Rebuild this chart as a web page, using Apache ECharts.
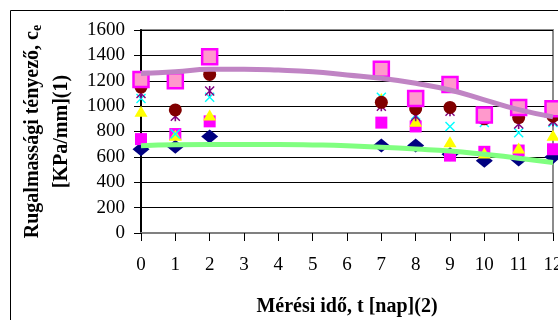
<!DOCTYPE html>
<html>
<head>
<meta charset="utf-8">
<script src="https://cdn.jsdelivr.net/npm/echarts@6/dist/echarts.min.js"></script>
<style>
  html, body { margin: 0; padding: 0; background: #fff; }
  #chart { width: 558px; height: 320px; }
</style>
</head>
<body>
<div id="chart"></div>
<script>
// Measurement days (x) and the measured elasticity values per series
const days = [0, 1, 2, 7, 8, 9, 10, 11, 12];
const seriesDiamond = [660, 680, 760, 690, 690, 620, 570, 580, 600];
const seriesSquare = [740, 780, 880, 870, 840, 610, 640, 650, 660];
const seriesTriangle = [960, 770, 930, 1060, 880, 720, 630, 670, 770];
const seriesCross = [1060, 780, 1070, 1070, 930, 840, 870, 790, 870];
const seriesStar = [1100, 920, 1120, 1000, 920, 960, 900, 860, 880];
const seriesCircle = [1150, 970, 1250, 1030, 980, 990, 900, 910, 920];
const seriesPink = [1210, 1200, 1390, 1290, 1060, 1170, 930, 990, 980];

// Trend curves sampled on every day 0..12
const trendDays = [0, 1, 2, 3, 4, 5, 6, 7, 8, 9, 10, 11, 12];
const trendUpper = [1258, 1271, 1290, 1290, 1284, 1271, 1245, 1219, 1180, 1127, 1050, 972, 915];
const trendLower = [688, 695, 697, 697, 697, 694, 688, 676, 662, 646, 620, 590, 555];

const yTicks = [0, 200, 400, 600, 800, 1000, 1200, 1400, 1600];

const pairs = (xs, ys) => xs.map((x, i) => [x, ys[i]]);

const crossPath = 'path://M0,1L1,0L5,4L9,0L10,1L6,5L10,9L9,10L5,6L1,10L0,9L4,5Z';
const starPath = 'path://M0,1L1,0L5,4L9,0L10,1L6,5L10,9L9,10L5,6L1,10L0,9L4,5ZM4.2,0L5.8,0L5.8,10L4.2,10Z';

const serif = '"Liberation Serif", "Times New Roman", serif';

function scatter(name, values, symbol, size, color, extra) {
  return Object.assign({
    name: name,
    type: 'scatter',
    data: pairs(days, values),
    symbol: symbol,
    symbolSize: size,
    itemStyle: { color: color, opacity: 1 },
    clip: false,
    silent: true
  }, extra || {});
}

const chart = echarts.init(document.getElementById('chart'), null, { renderer: 'canvas' });

chart.setOption({
  animation: false,
  backgroundColor: '#ffffff',
  grid: {
    left: 141, right: 5, top: 30, bottom: 87,
    outerBoundsMode: 'none',
    containLabel: false,
    show: true, borderColor: '#8c8c8c', borderWidth: 2, backgroundColor: '#ffffff'
  },
  graphic: [{
    type: 'rect',
    shape: { x: 10.5, y: 10.5, width: 600, height: 400 },
    style: { fill: 'none', stroke: '#000', lineWidth: 1 },
    z: -1, silent: true
  }],
  xAxis: {
    type: 'value',
    min: 0, max: 12, interval: 1,
    axisLine: { show: true, onZero: false, lineStyle: { color: '#808080', width: 2 } },
    axisTick: { show: true, length: 8, lineStyle: { color: '#000', width: 1 } },
    axisLabel: { color: '#000', fontFamily: serif, fontSize: 19, margin: 23, hideOverlap: false },
    splitLine: { show: false },
    name: 'Mérési idő, t [nap](2)',
    nameLocation: 'middle',
    nameGap: 64,
    nameTextStyle: { color: '#000', fontFamily: serif, fontSize: 20, fontWeight: 'bold' }
  },
  yAxis: {
    type: 'value',
    min: yTicks[0], max: yTicks[yTicks.length - 1], interval: 200,
    axisLine: { show: true, lineStyle: { color: '#000', width: 2 } },
    axisTick: { show: true, inside: false, length: 7, lineStyle: { color: '#000', width: 1 } },
    axisLabel: {
      color: '#000', fontFamily: serif, fontSize: 19, margin: 16,
      formatter: v => String(v)
    },
    splitLine: { show: true, lineStyle: { color: '#000', width: 1 } },
    name: '{a|Rugalmassági tényező, c}{s|e}\n{a|[KPa/mm](1)}',
    nameLocation: 'middle',
    nameRotate: 90,
    nameGap: 64,
    nameTextStyle: {
      color: '#000', fontFamily: serif, fontSize: 20, fontWeight: 'bold',
      lineHeight: 29, align: 'center',
      rich: {
        a: { color: '#000', fontFamily: serif, fontSize: 20, fontWeight: 'bold', lineHeight: 29 },
        s: { color: '#000', fontFamily: serif, fontSize: 14, fontWeight: 'bold', lineHeight: 29, padding: [9, 0, 0, 0] }
      }
    }
  },
  series: [
    scatter('1', seriesDiamond, 'diamond', [17, 14], '#000080'),
    scatter('2', seriesSquare, 'rect', 12, '#ff00ff'),
    scatter('3', seriesTriangle, 'triangle', [13, 11], '#ffff00'),
    scatter('4', seriesCross, crossPath, 10, '#00ffff'),
    scatter('5', seriesStar, starPath, 10, '#800080'),
    scatter('6', seriesCircle, 'circle', 13, '#800000'),
    scatter('7', seriesPink, 'rect', 15, '#ff99cc', {
      itemStyle: { color: '#ff99cc', borderColor: '#ff00ff', borderWidth: 2.5, opacity: 1 }
    }),
    {
      name: 'trend-lower',
      type: 'line',
      data: pairs(trendDays, trendLower),
      smooth: true,
      symbol: 'none',
      lineStyle: { color: '#80ff80', width: 5 },
      silent: true,
      z: 3
    },
    {
      name: 'trend-upper',
      type: 'line',
      data: pairs(trendDays, trendUpper),
      smooth: true,
      symbol: 'none',
      lineStyle: { color: '#c084c4', width: 5 },
      silent: true,
      z: 3
    }
  ]
});
</script>
</body>
</html>
